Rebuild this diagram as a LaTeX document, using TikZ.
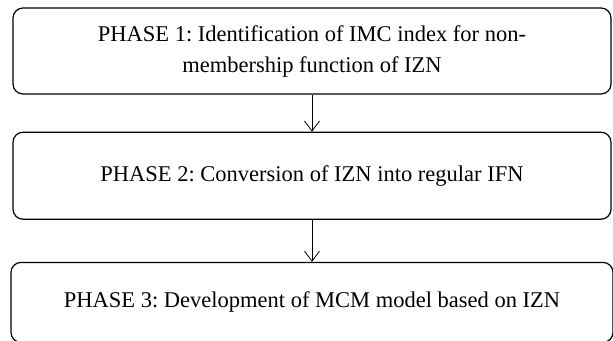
\documentclass[tikz,border=0pt]{standalone}
\usepackage{fontspec}
\setmainfont{Liberation Serif}
\frenchspacing
\usetikzlibrary{positioning,arrows.meta}
\tikzset{
  phase/.style={draw, line width=1.2pt, rounded corners=10pt, align=center,
    minimum width=598pt, font=\fontsize{22.5}{31}\selectfont},
  flow/.style={-{Straight Barb[length=10pt,width=15pt]}, line width=0.8pt}
}
\begin{document}
\begin{tikzpicture}
  \useasboundingbox (0,0) rectangle (613pt,-340pt);
  \node[phase, minimum height=86pt] (p1) at (312pt,-51pt)
    {PHASE 1: Identification of IMC index for non-\\membership function of IZN};
  \node[phase, minimum height=87pt, below=37pt of p1] (p2)
    {PHASE 2: Conversion of IZN into regular IFN};
  \node[phase, minimum height=80pt, minimum width=602pt, below=42pt of p2] (p3)
    {PHASE 3: Development of MCM model based on IZN};
  \draw[flow] (p1) -- (p2);
  \draw[flow] (p2) -- (p3);
\end{tikzpicture}
\end{document}
